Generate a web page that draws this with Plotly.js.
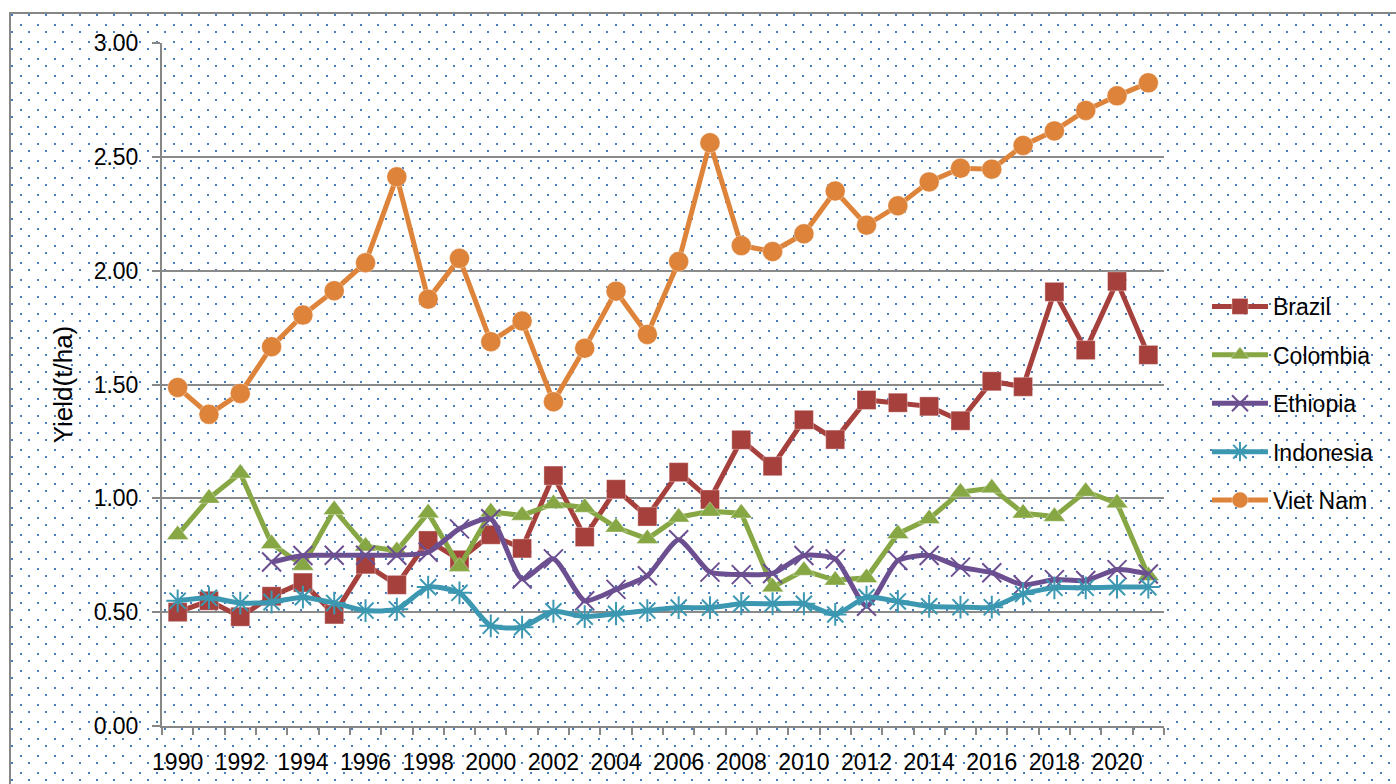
<!DOCTYPE html>
<html>
<head>
<meta charset="utf-8">
<script src="https://cdn.plot.ly/plotly-3.0.1.min.js"></script>
<style>
  html, body { margin: 0; padding: 0; width: 1396px; height: 784px; overflow: hidden; background: #ffffff; }
  #frame {
    position: absolute; left: 9px; top: 12px; width: 1500px; height: 900px;
    border: 2px solid #878787;
    background-image: url("data:image/svg+xml;utf8,<svg xmlns='http://www.w3.org/2000/svg' width='17' height='17'><rect x='0' y='0' width='2' height='2' fill='%234A7EBB'/><rect x='9' y='10' width='2' height='2' fill='%234A7EBB'/></svg>");
  }
  #chart { position: absolute; left: 0; top: 0; width: 1396px; height: 784px; }
</style>
</head>
<body>
<div id="frame"></div>
<div id="chart"></div>
<script>
const years = [1990,1991,1992,1993,1994,1995,1996,1997,1998,1999,2000,2001,2002,2003,2004,2005,2006,2007,2008,2009,2010,2011,2012,2013,2014,2015,2016,2017,2018,2019,2020,2021];
const brazil = [0.50,0.55,0.48,0.57,0.63,0.49,0.71,0.62,0.815,0.73,0.84,0.78,1.10,0.83,1.04,0.92,1.115,0.995,1.257,1.141,1.345,1.258,1.432,1.42,1.404,1.341,1.514,1.49,1.907,1.651,1.953,1.63];
const colombia = [0.84,1.00,1.11,0.80,0.705,0.95,0.79,0.77,0.936,0.70,0.94,0.925,0.976,0.96,0.873,0.822,0.917,0.943,0.935,0.61,0.683,0.64,0.651,0.844,0.91,1.027,1.045,0.935,0.92,1.03,0.979,0.66];
const ethiopia = [null,null,null,0.72,0.749,0.75,0.75,0.75,0.763,0.866,0.91,0.646,0.734,0.55,0.60,0.66,0.818,0.676,0.665,0.67,0.749,0.734,0.526,0.727,0.749,0.698,0.673,0.62,0.643,0.639,0.687,0.668];
const indonesia = [0.55,0.563,0.54,0.544,0.566,0.54,0.507,0.513,0.61,0.585,0.44,0.434,0.504,0.48,0.493,0.507,0.52,0.52,0.537,0.537,0.537,0.49,0.566,0.547,0.526,0.522,0.522,0.58,0.607,0.607,0.61,0.61];
const vietnam = [1.487,1.369,1.461,1.666,1.805,1.912,2.035,2.412,1.875,2.054,1.688,1.779,1.424,1.659,1.91,1.72,2.04,2.562,2.11,2.084,2.162,2.35,2.20,2.285,2.39,2.45,2.446,2.55,2.614,2.704,2.768,2.825];

const xTickVals = [1990,1992,1994,1996,1998,2000,2002,2004,2006,2008,2010,2012,2014,2016,2018,2020];
const xTickText = xTickVals.map(String);
const yTickVals = [0,0.5,1,1.5,2,2.5,3];
const yTickText = ['0.00','0.50','1.00','1.50','2.00','2.50','3.00'];

const FONT = '"Liberation Sans", Arial, sans-serif';

const traces = [
  {name:'Brazil', y:brazil, color:'#A6403D', symbol:'square', size:19, shape:'linear'},
  {name:'Colombia', y:colombia, color:'#86A744', symbol:'triangle-up', size:19, shape:'linear'},
  {name:'Ethiopia', y:ethiopia, color:'#6C4F90', symbol:'x-thin', size:19, shape:'spline'},
  {name:'Indonesia', y:indonesia, color:'#3C98B1', symbol:'asterisk', size:19, shape:'spline'},
  {name:'Viet Nam', y:vietnam, color:'#DD833A', symbol:'circle', size:20, shape:'linear'}
].map(t => {
  const thin = (t.symbol === 'x-thin' || t.symbol === 'asterisk');
  return {
    type:'scatter', mode:'lines+markers', name:t.name, x:years, y:t.y,
    legendgroup:t.name,
    connectgaps:false,
    line:{color:t.color, width:5, shape:t.shape, smoothing:0.6},
    marker:{symbol:t.symbol, size:t.size, color:t.color,
            line: thin ? {color:t.color, width:2} : {color:'rgba(255,255,255,0.35)', width:1}}
  };
});

const layout = {
  width:1396, height:784,
  margin:{l:162, r:232, t:43, b:58, autoexpand:false},
  paper_bgcolor:'rgba(0,0,0,0)',
  plot_bgcolor:'rgba(0,0,0,0)',
  font:{family:FONT, size:23, color:'#000000'},
  showlegend:true,
  legend:{
    xref:'container', yref:'container',
    x:0.8646, y:0.6365, xanchor:'left', yanchor:'top',
    bgcolor:'rgba(0,0,0,0)', borderwidth:0,
    font:{family:FONT, size:23, color:'#000000'},
    traceorder:'grouped', tracegroupgap:15.5,
    itemwidth:56, itemsizing:'trace'
  },
  xaxis:{
    type:'linear', range:[1989.5, 2021.5], fixedrange:true,
    tickmode:'array', tickvals:xTickVals, ticktext:xTickText,
    ticks:'', showgrid:false, zeroline:false,
    showline:true, linecolor:'#878787', linewidth:2,
    tickfont:{family:FONT, size:23, color:'#000000'},
    ticklabelstandoff:14,
    minor:{tick0:1989.5, dtick:1, ticks:'outside', ticklen:7, tickwidth:2, tickcolor:'#878787', showgrid:false}
  },
  yaxis:{
    range:[0,3], fixedrange:true,
    tickmode:'array', tickvals:yTickVals, ticktext:yTickText,
    ticks:'outside', ticklen:8, tickwidth:2, tickcolor:'#878787',
    showgrid:true, gridcolor:'#8A8A8A', gridwidth:2,
    zeroline:false, showline:true, linecolor:'#878787', linewidth:2,
    tickfont:{family:FONT, size:23, color:'#000000'},
    ticklabelstandoff:9,
    title:{text:'Yield(t/ha)', font:{family:FONT, size:26, color:'#000000'}, standoff:14}
  }
};

Plotly.newPlot('chart', traces, layout, {displayModeBar:false, staticPlot:true});
</script>
</body>
</html>
